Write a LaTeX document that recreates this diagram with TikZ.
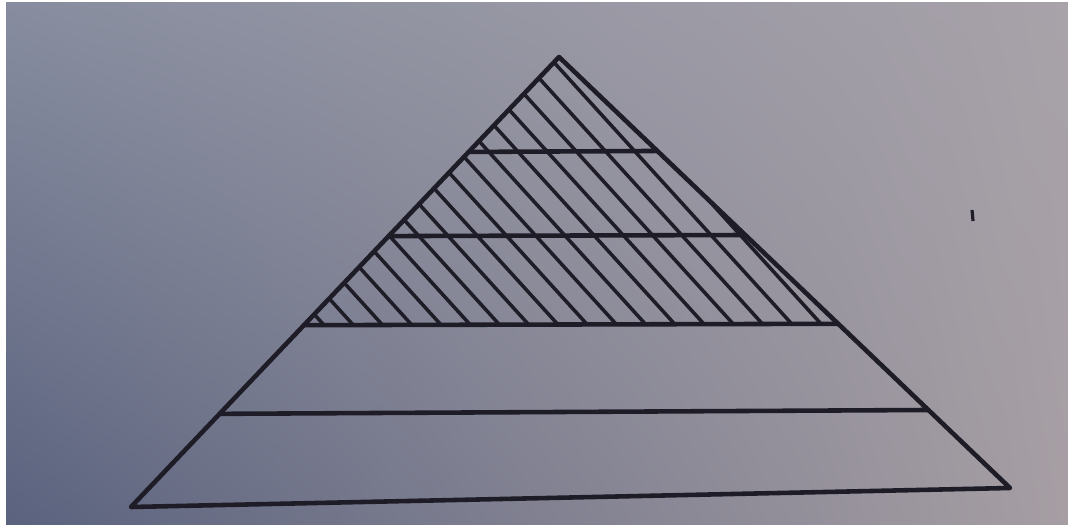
\documentclass[tikz,border=0pt]{standalone}
\usetikzlibrary{calc,shadings}
\definecolor{ink}{HTML}{1E1C26}
\definecolor{bgul}{HTML}{878D9F}
\definecolor{bgur}{HTML}{A8A2A9}
\definecolor{bgll}{HTML}{5A627E}
\definecolor{bglr}{HTML}{A69EA3}
\tikzset{
  edge/.style={ink, line width=1.3pt, line cap=round, line join=round},
  hatchline/.style={ink, line width=1pt}
}
\begin{document}
\begin{tikzpicture}[x=0.01cm, y=-0.01cm]
  \useasboundingbox (0,0) rectangle (1068,525);
  \fill[white] (0,0) rectangle (1068,525);
  \shade[upper left=bgul, upper right=bgur, lower left=bgll, lower right=bglr] (6,3) rectangle (1068,525);
  \coordinate (apex) at (559,57);
  \coordinate (bl) at (131,507);
  \coordinate (br) at (1010,488);
  \coordinate (l1a) at ($(apex)!0.211!(bl)$);
  \coordinate (l1b) at ($(apex)!0.218!(br)$);
  \coordinate (l2a) at ($(apex)!0.398!(bl)$);
  \coordinate (l2b) at ($(apex)!0.413!(br)$);
  \coordinate (l3a) at ($(apex)!0.596!(bl)$);
  \coordinate (l3b) at ($(apex)!0.619!(br)$);
  \coordinate (l4a) at ($(apex)!0.793!(bl)$);
  \coordinate (l4b) at ($(apex)!0.819!(br)$);
  \begin{scope}
    % Phần gạch chéo phía trên
    \clip (apex) -- (l3a) -- (l3b) -- cycle;
    \foreach \i in {0,...,17} \draw[hatchline] (333+29.3*\i,335) -- ++(-300,-330);
  \end{scope}
  \draw[edge] (l1a) -- (l1b);
  \draw[edge] (l2a) -- (l2b);
  \draw[edge] (l3a) -- (l3b);
  \draw[edge] (l4a) -- (l4b);
  \draw[edge] (apex) -- (bl) -- (br) -- cycle;
  \draw[ink, line width=0.9pt] (972,210) -- (973,221);
\end{tikzpicture}
\end{document}
